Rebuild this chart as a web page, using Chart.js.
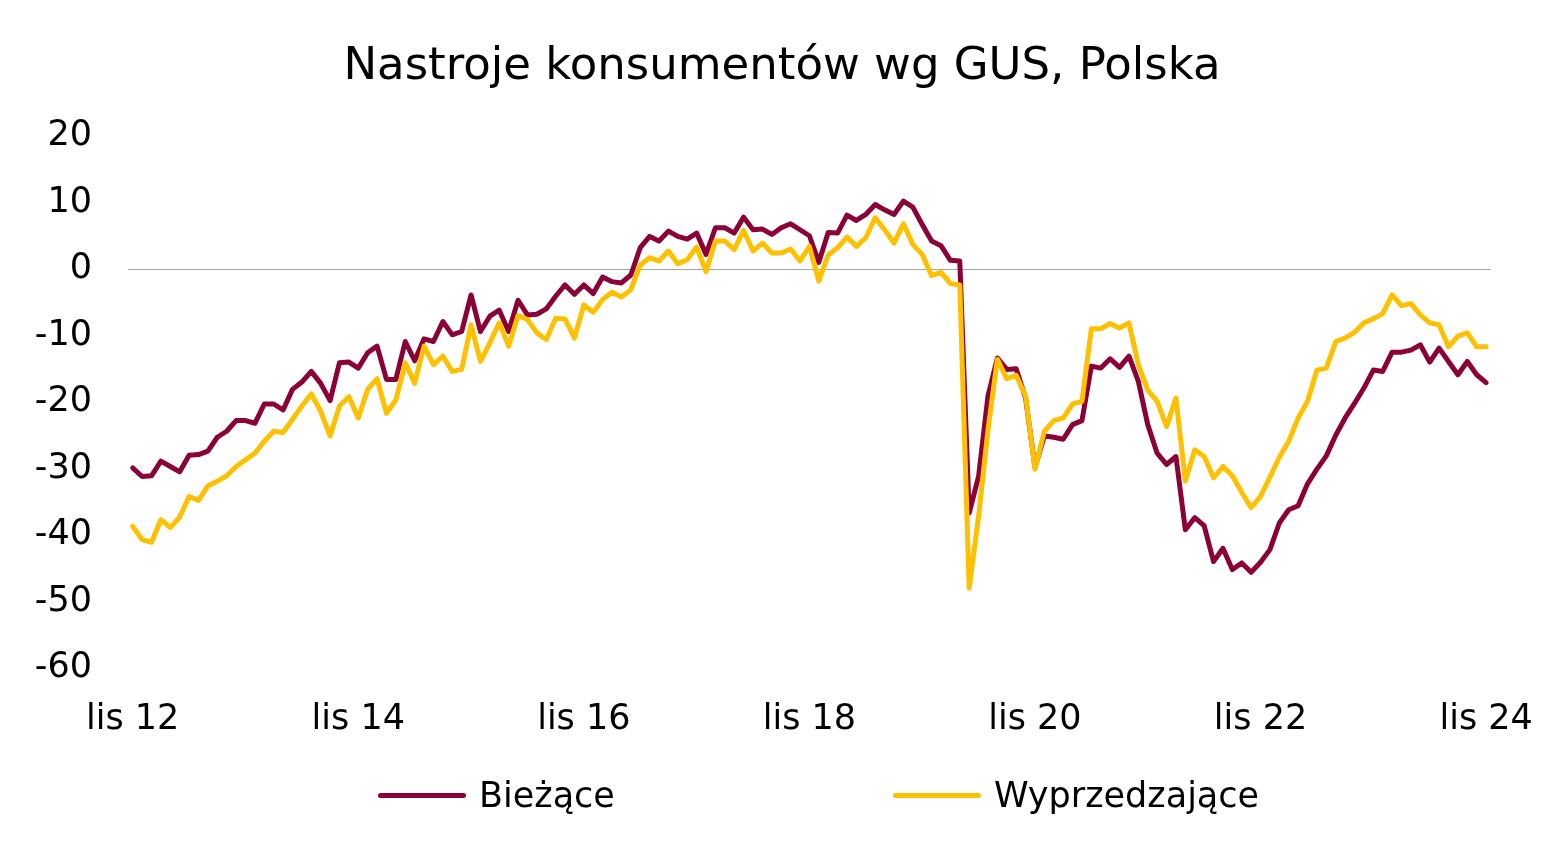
<!DOCTYPE html>
<html>
<head>
<meta charset="utf-8">
<script src="https://cdn.jsdelivr.net/npm/chart.js@4"></script>
<style>
    body { margin: 0; background: #fff; }
    #wrap { position: relative; width: 1564px; height: 853px; }
    #legend {
        position: absolute; left: 378px; top: 775px;
        display: flex; gap: 278px;
        font-family: "DejaVu Sans", sans-serif; font-size: 35px; color: #000;
    }
    .item { display: flex; align-items: center; }
    .swatch { width: 88px; height: 5px; border-radius: 3px; margin-right: 13px; }
</style>
</head>
<body>
<div id="wrap">
    <canvas id="chart" width="1564" height="853"></canvas>
    <div id="legend"></div>
</div>
<script>
// miesiace od lis 2012 do lis 2024
const monthNames = ['sty', 'lut', 'mar', 'kwi', 'maj', 'cze', 'lip', 'sie', 'wrz', 'paź', 'lis', 'gru'];
const xTickLabels = ['lis 12', 'lis 14', 'lis 16', 'lis 18', 'lis 20', 'lis 22', 'lis 24'];
const yTicks = [20, 10, 0, -10, -20, -30, -40, -50, -60];

const seriesNames = ['Bieżące', 'Wyprzedzające'];
const seriesColours = ['#8b0036', '#ffc000'];

const biezace = [
    -29.9, -31.2, -31.1, -28.9, -29.7, -30.5, -28.0, -27.9, -27.4, -25.3,
    -24.4, -22.8, -22.8, -23.2, -20.3, -20.3, -21.2, -18.1, -17.0, -15.4,
    -17.2, -19.8, -14.1, -14.0, -14.9, -12.6, -11.6, -16.6, -16.6, -10.9,
    -13.8, -10.5, -10.9, -7.9, -9.9, -9.4, -3.9, -9.4, -7.1, -6.2,
    -9.4, -4.7, -6.9, -6.8, -6.0, -4.1, -2.4, -3.8, -2.4, -3.7,
    -1.2, -1.9, -2.1, -0.9, 3.2, 4.9, 4.2, 5.7, 4.9, 4.5,
    5.4, 2.2, 6.2, 6.2, 5.4, 7.8, 5.9, 6.0, 5.2, 6.2,
    6.8, 5.9, 5.0, 1.0, 5.5, 5.4, 8.1, 7.3, 8.2, 9.7,
    8.9, 8.2, 10.2, 9.3, 6.7, 4.2, 3.5, 1.3, 1.2, -36.7,
    -31.2, -19.1, -13.4, -15.1, -15.0, -19.4, -29.8, -25.1, -25.3, -25.6,
    -23.4, -22.8, -14.6, -14.9, -13.5, -14.8, -13.1, -16.9, -23.4, -27.7,
    -29.4, -28.2, -39.2, -37.4, -38.6, -44.0, -42.0, -45.2, -44.2, -45.6,
    -44.1, -42.2, -38.2, -36.2, -35.6, -32.3, -30.1, -28.1, -25.0, -22.4,
    -20.2, -17.9, -15.2, -15.4, -12.5, -12.5, -12.2, -11.4, -14.0, -11.9,
    -13.9, -15.9, -13.9, -15.9, -17.1
];

const wyprzedzajace = [
    -38.7, -40.7, -41.1, -37.7, -38.9, -37.3, -34.2, -34.8, -32.6, -31.9,
    -31.1, -29.7, -28.7, -27.7, -25.9, -24.4, -24.6, -22.6, -20.6, -18.8,
    -21.4, -25.1, -20.6, -19.2, -22.4, -18.1, -16.5, -21.7, -19.7, -14.1,
    -17.2, -11.6, -14.4, -13.1, -15.4, -15.1, -8.4, -13.9, -11.1, -8.1,
    -11.6, -7.0, -7.6, -9.6, -10.6, -7.4, -7.5, -10.4, -5.4, -6.5,
    -4.6, -3.5, -4.2, -3.1, 0.6, 1.7, 1.2, 2.7, 0.8, 1.4,
    3.3, -0.4, 4.2, 4.2, 2.9, 5.8, 2.7, 3.9, 2.4, 2.4,
    3.0, 1.2, 3.4, -1.8, 2.1, 3.2, 4.8, 3.4, 4.7, 7.7,
    5.9, 3.9, 6.8, 3.7, 2.2, -1.0, -0.5, -2.2, -2.4, -48.0,
    -37.2, -24.2, -13.6, -16.5, -16.0, -19.1, -30.1, -24.4, -22.8, -22.4,
    -20.3, -19.9, -9.0, -9.0, -8.2, -8.9, -8.1, -14.4, -18.2, -19.9,
    -23.7, -19.4, -31.9, -27.2, -28.2, -31.4, -29.7, -31.1, -33.6, -35.9,
    -34.2, -31.3, -28.3, -25.9, -22.4, -19.9, -15.2, -14.9, -10.9, -10.4,
    -9.5, -8.1, -7.5, -6.7, -3.9, -5.5, -5.2, -6.9, -8.1, -8.4,
    -11.7, -10.1, -9.6, -11.7, -11.7
];

const labels = [];
for (let i = 0; i < biezace.length; i++) {
    const m = (10 + i) % 12;
    const y = 12 + Math.floor((10 + i) / 12);
    labels.push(monthNames[m] + ' ' + y);
}

const font = '"DejaVu Sans", sans-serif';

function line(label, data, colour, order) {
    return {
        label,
        data,
        borderColor: colour,
        backgroundColor: colour,
        borderWidth: 5,
        pointRadius: 0,
        tension: 0,
        borderJoinStyle: 'round',
        borderCapStyle: 'round',
        order
    };
}

const ctx = document.getElementById('chart').getContext('2d');
const cht = new Chart(ctx, {
    type: 'line',
    data: {
        labels,
        datasets: [
            line(seriesNames[0], biezace, seriesColours[0], 1),
            line(seriesNames[1], wyprzedzajace, seriesColours[1], 0)
        ]
    },
    options: {
        responsive: false,
        animation: false,
        layout: {
            padding: { left: 0, right: 0, top: 0, bottom: 105 }
        },
        plugins: {
            legend: { display: false },
            tooltip: { enabled: false },
            title: {
                display: true,
                text: 'Nastroje konsumentów wg GUS, Polska',
                color: '#000',
                font: { family: font, size: 45, weight: 'normal' },
                padding: { top: 40, bottom: 42 }
            }
        },
        scales: {
            x: {
                offset: true,
                grid: { display: false, drawTicks: false },
                border: { display: false },
                ticks: {
                    autoSkip: false,
                    maxRotation: 0,
                    padding: 31,
                    color: '#000',
                    font: { family: font, size: 35 },
                    callback: function(v, i) {
                        const l = labels[i];
                        return xTickLabels.includes(l) ? l : '';
                    }
                },
                afterFit: function(s) { s.height = 80; }
            },
            y: {
                min: -60,
                max: 20,
                afterBuildTicks: function(s) {
                    s.ticks = yTicks.map(v => ({ value: v }));
                },
                grid: {
                    drawTicks: false,
                    color: c => c.tick && c.tick.value === 0 ? '#a6a6a6' : 'rgba(0,0,0,0)',
                    lineWidth: 1
                },
                border: { display: false },
                ticks: {
                    padding: 36,
                    color: '#000',
                    font: { family: font, size: 35 }
                },
                afterFit: function(s) { s.width = 128; }
            },
            // pusta os po prawej, tylko na margines
            yr: {
                position: 'right',
                min: -60,
                max: 20,
                grid: { display: false, drawTicks: false },
                border: { display: false },
                ticks: { display: false },
                afterFit: function(s) { s.width = 66; }
            }
        }
    }
});

// legenda w HTML
const legend = document.getElementById('legend');
seriesNames.forEach((name, i) => {
    const item = document.createElement('div');
    item.className = 'item';
    const sw = document.createElement('div');
    sw.className = 'swatch';
    sw.style.background = seriesColours[i];
    const txt = document.createElement('span');
    txt.textContent = name;
    item.appendChild(sw);
    item.appendChild(txt);
    legend.appendChild(item);
});
</script>
</body>
</html>
